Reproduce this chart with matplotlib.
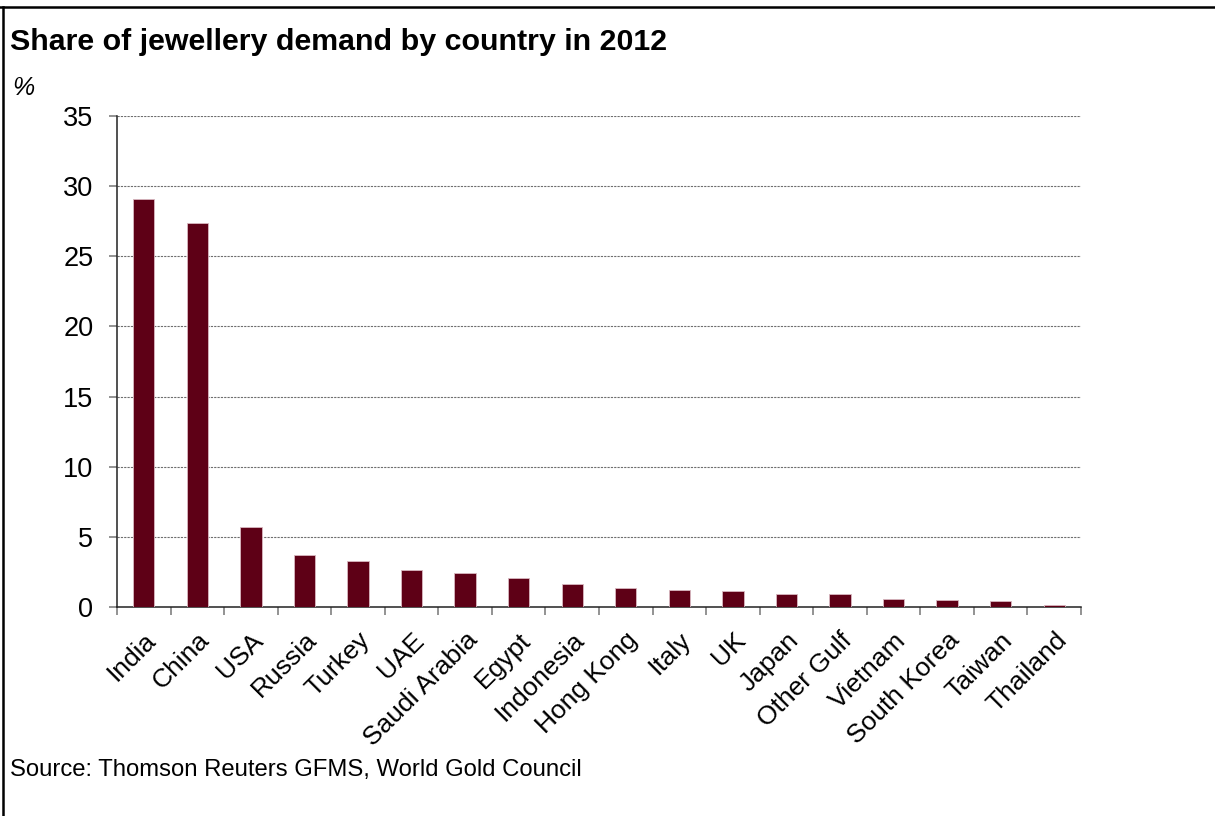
import matplotlib
matplotlib.use("Agg")
import matplotlib.pyplot as plt
from matplotlib.lines import Line2D

# share of 2012 jewellery demand, %
countries = ["India", "China", "USA", "Russia", "Turkey", "UAE", "Saudi Arabia",
             "Egypt", "Indonesia", "Hong Kong", "Italy", "UK", "Japan",
             "Other Gulf", "Vietnam", "South Korea", "Taiwan", "Thailand"]
share = [29.1, 27.35, 5.7, 3.7, 3.3, 2.65, 2.45, 2.1, 1.65, 1.35, 1.2, 1.15,
         0.9, 0.9, 0.6, 0.5, 0.4, 0.15]
yticks = [0, 5, 10, 15, 20, 25, 30, 35]

BAR = "#5e0016"
plt.rcParams["font.family"] = ["Liberation Sans", "DejaVu Sans"]

W, H = 1215, 816
fig = plt.figure(figsize=(W / 100, H / 100), dpi=100)
ax = fig.add_axes([117 / W, 1 - 607 / H, (1081 - 117) / W, (607 - 116) / H])

x = list(range(len(countries)))
ax.bar(x, share, width=0.4, color=BAR, edgecolor="#d8b8c0", linewidth=0.6, zorder=3)

ax.set_xlim(-0.5, len(countries) - 0.5)
ax.set_ylim(0, 35)
ax.set_yticks(yticks)
ax.set_yticklabels([str(t) for t in yticks])
ax.tick_params(axis="y", length=6, width=1.2, color="#808080", pad=11, labelsize=19.5)

# category labels centred, tick marks between categories
ax.set_xticks(x)
ax.set_xticklabels(countries, rotation=45, ha="right", rotation_mode="anchor")
ax.tick_params(axis="x", which="major", length=0, pad=15, labelsize=19)
ax.set_xticks([i - 0.5 for i in range(len(countries) + 1)], minor=True)
ax.tick_params(axis="x", which="minor", length=6, width=1.2, color="#808080")

for yv in yticks[1:]:
    ax.axhline(yv, color="#6e6e6e", lw=0.8, ls=(0, (2, 1)), zorder=1)

for s in ("top", "right"):
    ax.spines[s].set_visible(False)
ax.spines["left"].set_color("#222222")
ax.spines["bottom"].set_color("#222222")
ax.spines["left"].set_linewidth(1.1)
ax.spines["bottom"].set_linewidth(1.1)

fig.text(10 / W, 1 - 42 / H, "Share of jewellery demand by country in 2012",
         fontsize=21.9, fontweight="bold", va="center", ha="left")
fig.text(12 / W, 1 - 88 / H, "%", fontsize=18, fontstyle="italic",
         va="center", ha="left")
fig.text(10 / W, 1 - 770 / H, "Source: Thomson Reuters GFMS, World Gold Council",
         fontsize=17.2, va="center", ha="left")

# frame lines along the top and left edge
fig.add_artist(Line2D([0, 1], [1 - 6.5 / H] * 2, color="black", lw=1.8))
fig.add_artist(Line2D([3 / W] * 2, [0, 1 - 6.5 / H], color="black", lw=1.8))

fig.savefig("out.png", dpi=100, facecolor="white")
